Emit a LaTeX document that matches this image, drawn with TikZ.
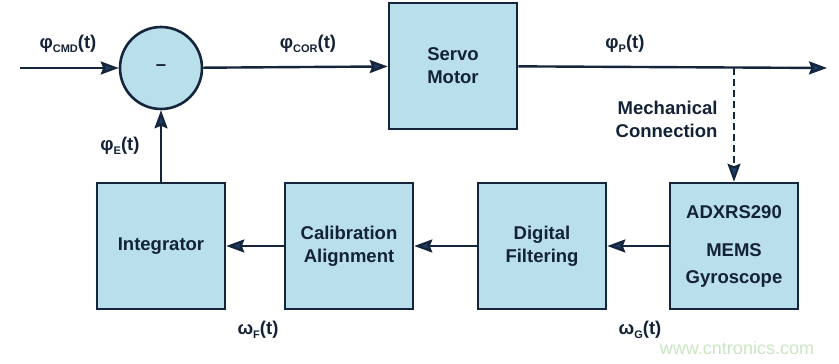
\documentclass[tikz,border=0pt]{standalone}
\usepackage{fontspec}
\setmainfont{Liberation Sans}
\usetikzlibrary{arrows.meta}
\definecolor{boxfill}{HTML}{B9DFEB}
\definecolor{navy}{HTML}{15263C}
\definecolor{tipblue}{HTML}{1E3D66}
\definecolor{wmgreen}{HTML}{C9E6C2}
\newcommand\sigsub[1]{\raisebox{-4.5pt}{\fontsize{11}{11}\selectfont#1}}
\begin{document}
\begin{tikzpicture}[x=1pt, y=-1pt, every node/.style={font=\fontsize{18.5}{23}\selectfont\bfseries, text=navy!90!black},
  blk/.style={draw=navy, line width=2.6pt, fill=boxfill, minimum width=128pt, minimum height=126pt, align=center},
  sig/.style={line width=2.4pt, draw=navy, -{Stealth[length=18pt,width=13pt,inset=2.5pt,fill=tipblue]}}]
  \useasboundingbox (0,0) rectangle (839,364);
  \node[draw=navy,line width=2.6pt,fill=boxfill,circle,minimum size=82pt] (sum) at (161,68) {--};
  \node[blk] (servo) at (453,66) {Servo\\Motor};
  \node[blk] (gyro) at (734,246) {ADXRS290\\[15pt]MEMS\\[4pt]Gyroscope};
  \node[blk] (filt) at (542,246) {Digital\\Filtering};
  \node[blk] (calib) at (349,246) {Calibration\\Alignment};
  \node[blk] (integ) at (161,246) {Integrator};
  \coordinate (in) at (20,68); \coordinate (out) at (827,68); \coordinate (tap) at (734,68);
  \draw[sig] (in) -- (sum); \draw[sig] (sum) -- (servo); \draw[sig] (servo) -- (out);
  \draw[sig, line width=2pt, dash pattern=on 7pt off 4pt] (tap) -- (gyro);
  \draw[sig] (gyro) -- (filt); \draw[sig] (filt) -- (calib); \draw[sig] (calib) -- (integ);
  \draw[sig] (integ) -- (sum);
  \node (cmd) at (68,44) {φ\sigsub{CMD}(t)};
  \node (cor) at (308,44) {φ\sigsub{COR}(t)};
  \node (pp) at (625,44) {φ\sigsub{P}(t)};
  \node (ee) at (120,146) {φ\sigsub{E}(t)};
  \node (wf) at (258,330) {ω\sigsub{F}(t)};
  \node (wg) at (640,330) {ω\sigsub{G}(t)};
  \node[anchor=east, align=right] (mech) at (721,119) {Mechanical\\Connection};
  \node[font=\fontsize{18}{20}\selectfont, text=wmgreen] (wm) at (737,348) {www.cntronics.com};
\end{tikzpicture}
\end{document}
